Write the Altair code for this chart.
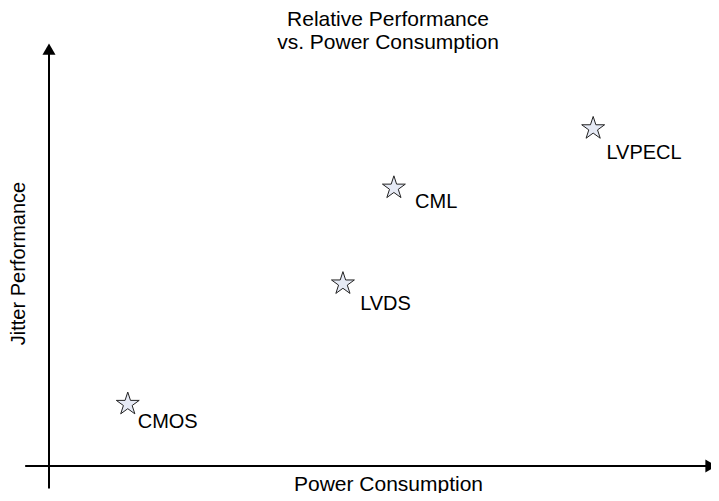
import altair as alt
import pandas as pd

# Data (relative units)
names = ["CMOS", "LVDS", "CML", "LVPECL"]
power = [1.19, 4.44, 5.21, 8.22]
jitter = [1.46, 4.30, 6.56, 7.96]
# label anchor (left edge / baseline) in the same units
label_x = [1.34, 4.70, 5.53, 8.42]
label_y = [0.90, 3.68, 6.08, 7.24]

# Axis arrows (in data units)
x_axis_x = [-0.36, 10.05]
y_axis_y = [-0.53, 9.83]
x_arrow_at = 10.0

FONT = "Liberation Sans"
STAR = ("M0,-1L0.2245,-0.309L0.951,-0.309L0.363,0.118L0.588,0.809L0,0.382"
        "L-0.588,0.809L-0.363,0.118L-0.951,-0.309L-0.2245,-0.309Z")

df = pd.DataFrame({"name": names, "power": power, "jitter": jitter,
                   "lx": label_x, "ly": label_y})

xs = alt.Scale(domain=[0, 10], nice=False, zero=False)
ys = alt.Scale(domain=[0, 10], nice=False, zero=False)

xaxis = alt.Axis(domain=False, ticks=False, labels=False, grid=False,
                 title="Power Consumption", titleFont=FONT, titleFontSize=21,
                 titleFontWeight="normal", titleColor="#000",
                 titleX=339, titleY=24, titleBaseline="alphabetic", titleAnchor="middle")
yaxis = alt.Axis(domain=False, ticks=False, labels=False, grid=False,
                 title="Jitter Performance", titleFont=FONT, titleFontSize=20,
                 titleFontWeight="normal", titleColor="#000",
                 titleX=-31, titleY=221, titleAngle=270, titleBaseline="middle",
                 titleAlign="center")

stars = alt.Chart(df).mark_point(shape=STAR, size=580, filled=True, fill="#e6eaf5",
                                 stroke="#222", strokeWidth=1, opacity=1).encode(
    x=alt.X("power:Q", scale=xs, axis=xaxis),
    y=alt.Y("jitter:Q", scale=ys, axis=yaxis),
)

labels = alt.Chart(df).mark_text(align="left", baseline="alphabetic",
                                 font=FONT, fontSize=20, color="#000").encode(
    x=alt.X("lx:Q", scale=xs, axis=xaxis), y=alt.Y("ly:Q", scale=ys, axis=yaxis),
    text="name:N")

xline = alt.Chart(pd.DataFrame({"x": [x_axis_x[0]], "x2": [x_axis_x[1]], "y": [0]})).mark_rule(
    color="#000", strokeWidth=2).encode(
    x=alt.X("x:Q", scale=xs, axis=xaxis), x2="x2:Q", y=alt.Y("y:Q", scale=ys, axis=yaxis))
yline = alt.Chart(pd.DataFrame({"x": [0], "y": [y_axis_y[0]], "y2": [y_axis_y[1]]})).mark_rule(
    color="#000", strokeWidth=2).encode(
    x=alt.X("x:Q", scale=xs, axis=xaxis), y=alt.Y("y:Q", scale=ys, axis=yaxis), y2="y2:Q")

xarrow = alt.Chart(pd.DataFrame({"x": [x_arrow_at], "y": [0]})).mark_point(
    shape="triangle-right", size=170, filled=True, color="#000", opacity=1).encode(
    x=alt.X("x:Q", scale=xs, axis=xaxis), y=alt.Y("y:Q", scale=ys, axis=yaxis))
yarrow = alt.Chart(pd.DataFrame({"x": [0], "y": [y_axis_y[1]]})).mark_point(
    shape="triangle-up", size=170, filled=True, color="#000", opacity=1).encode(
    x=alt.X("x:Q", scale=xs, axis=xaxis), y=alt.Y("y:Q", scale=ys, axis=yaxis))

chart = alt.layer(xline, yline, xarrow, yarrow, stars, labels).properties(
    width=662, height=424,
    background="white",
    autosize=alt.AutoSizeParams(type="none"),
    padding={"left": 41, "top": 34, "right": 0, "bottom": 27},
    title=alt.TitleParams(text=["Relative Performance", "vs. Power Consumption"],
                          font=FONT, fontSize=21, fontWeight="normal", color="#000",
                          anchor="middle", dx=8, dy=11, offset=0, lineHeight=23),
).configure_view(strokeWidth=0, stroke="transparent").configure_axis(
    grid=False, domain=False, ticks=False, labels=False
)

chart.save("out.html", embed_options={"renderer": "svg", "actions": False})
